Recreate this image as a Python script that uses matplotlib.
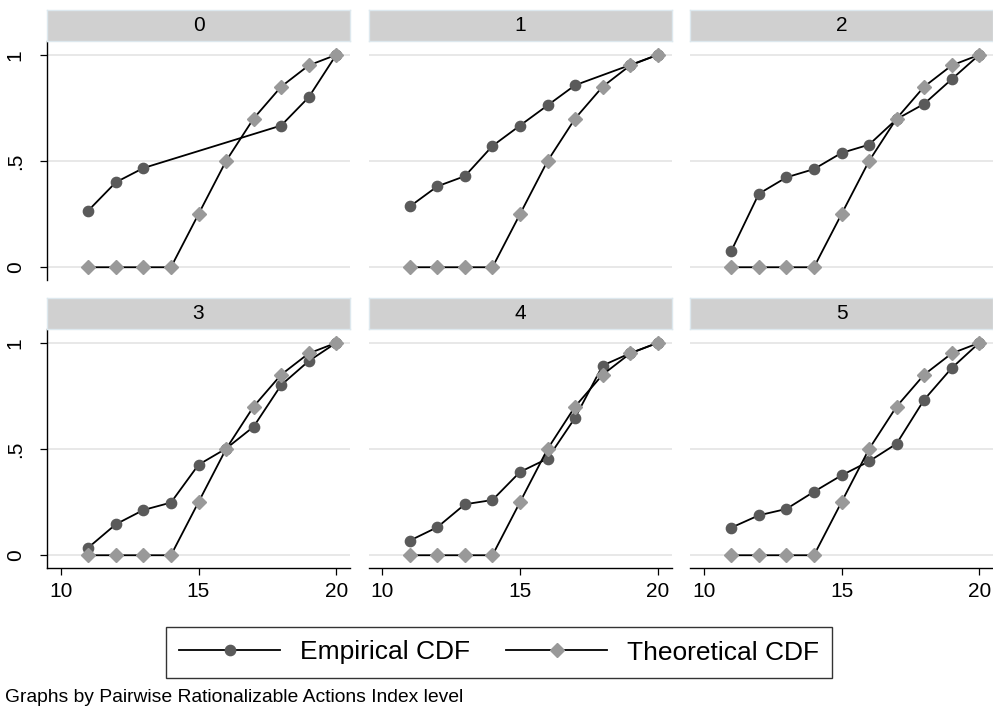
import matplotlib
matplotlib.use('Agg')
import matplotlib.pyplot as plt
from matplotlib.lines import Line2D
import numpy as np

plt.rcParams['font.family'] = ['Liberation Sans', 'DejaVu Sans']

# data
levels = ['0', '1', '2', '3', '4', '5']

emp_x = {
    '0': [11, 12, 13, 18, 19, 20],
    '1': [11, 12, 13, 14, 15, 16, 17, 19, 20],
    '2': [11, 12, 13, 14, 15, 16, 17, 18, 19, 20],
    '3': [11, 12, 13, 14, 15, 16, 17, 18, 19, 20],
    '4': [11, 12, 13, 14, 15, 16, 17, 18, 19, 20],
    '5': [11, 12, 13, 14, 15, 16, 17, 18, 19, 20],
}
emp_y = {
    '0': [0.267, 0.400, 0.467, 0.667, 0.800, 1.0],
    '1': [0.286, 0.381, 0.429, 0.571, 0.667, 0.762, 0.857, 0.952, 1.0],
    '2': [0.077, 0.346, 0.423, 0.462, 0.538, 0.577, 0.697, 0.769, 0.885, 1.0],
    '3': [0.036, 0.146, 0.213, 0.248, 0.426, 0.502, 0.605, 0.801, 0.914, 1.0],
    '4': [0.069, 0.132, 0.240, 0.260, 0.392, 0.455, 0.647, 0.893, 0.951, 1.0],
    '5': [0.130, 0.188, 0.218, 0.299, 0.376, 0.442, 0.525, 0.732, 0.881, 1.0],
}

theo_x = [11, 12, 13, 14, 15, 16, 17, 18, 19, 20]
theo_y = [0, 0, 0, 0, 0.25, 0.5, 0.7, 0.85, 0.95, 1.0]

xticks = [10, 15, 20]
yticks = [0, 0.5, 1]
ytick_labels = ['0', '.5', '1']

emp_color = '#5a5a5a'
theo_color = '#999999'
strip_color = '#d0d0d0'
grid_color = '#e6e6e6'

W, H = 993, 707
fig = plt.figure(figsize=(W / 100, H / 100), dpi=100)

col_left = [47, 368.5, 690]
panel_w = 303
row_top = [41, 329]
panel_h = 239
strip_h = 31

for i, lev in enumerate(levels):
    r, c = divmod(i, 3)
    left = col_left[c] / W
    bottom = 1 - (row_top[r] + panel_h) / H
    ax = fig.add_axes([left, bottom, panel_w / W, panel_h / H])

    for yv in yticks:
        ax.axhline(yv, color=grid_color, lw=1.3, zorder=0)

    ax.plot(emp_x[lev], emp_y[lev], color='black', lw=1.3,
            marker='o', markersize=7.4, markerfacecolor=emp_color,
            markeredgecolor=emp_color, zorder=3)
    ax.plot(theo_x, theo_y, color='black', lw=1.3,
            marker='D', markersize=7.2, markerfacecolor=theo_color,
            markeredgecolor=theo_color, zorder=3)

    ax.set_xlim(9.5, 20.5)
    ax.set_ylim(-0.06, 1.065)
    for s in ['top', 'right']:
        ax.spines[s].set_visible(False)
    ax.spines['left'].set_visible(c == 0)
    ax.spines['bottom'].set_visible(r == 1)
    for s in ['left', 'bottom']:
        ax.spines[s].set_linewidth(1.0)

    ax.set_yticks(yticks)
    ax.set_xticks(xticks)
    if c == 0:
        ax.set_yticklabels(ytick_labels, rotation=90, va='center')
        ax.tick_params(axis='y', length=5, width=0.9, labelsize=15, pad=11)
    else:
        ax.tick_params(axis='y', left=False, labelleft=False)
    if r == 1:
        ax.set_xticklabels([str(v) for v in xticks])
        ax.tick_params(axis='x', length=5, width=0.9, labelsize=15, pad=5)
    else:
        ax.tick_params(axis='x', bottom=False, labelbottom=False)

    # strip with level label
    sax = fig.add_axes([left, 1 - row_top[r] / H, panel_w / W, strip_h / H])
    sax.set_facecolor(strip_color)
    sax.set_xticks([])
    sax.set_yticks([])
    for s in sax.spines.values():
        s.set_color('#dde8ee')
        s.set_linewidth(1.0)
    sax.text(0.5, 0.5, lev, ha='center', va='center', fontsize=15,
             transform=sax.transAxes)

handles = [
    Line2D([], [], color='black', lw=1.3, marker='o', markersize=7.4,
           markerfacecolor=emp_color, markeredgecolor=emp_color),
    Line2D([], [], color='black', lw=1.3, marker='D', markersize=7.2,
           markerfacecolor=theo_color, markeredgecolor=theo_color),
]
leg = fig.legend(handles, ['Empirical CDF', 'Theoretical CDF'],
                 loc='center', bbox_to_anchor=(499 / W, 1 - 652.5 / H),
                 ncol=2, fontsize=19, frameon=True, fancybox=False,
                 handlelength=3.8, handletextpad=0.75, columnspacing=1.4,
                 borderpad=0.5, borderaxespad=0)
leg.get_frame().set_edgecolor('black')
leg.get_frame().set_linewidth(1.0)

fig.text(5 / W, 1 - 697 / H, 'Graphs by Pairwise Rationalizable Actions Index level',
         ha='left', va='center', fontsize=13.9)

fig.savefig('out.png', dpi=100, facecolor='white')
